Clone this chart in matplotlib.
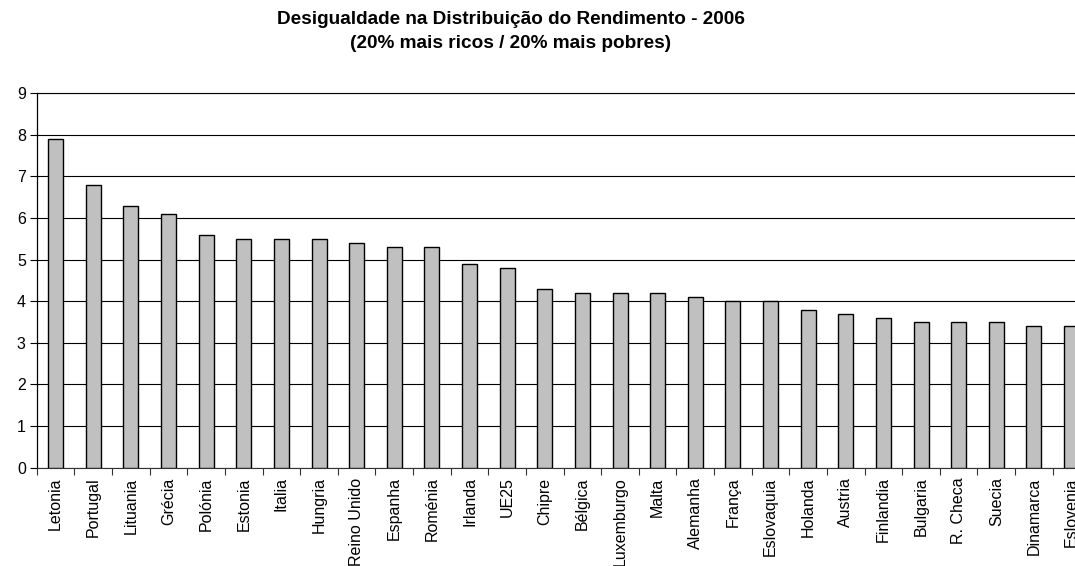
import numpy as np
import matplotlib
matplotlib.use("Agg")
from matplotlib import pyplot as plt

paises = ['Letonia', 'Portugal', 'Lituania', 'Grécia', 'Polónia', 'Estonia', 'Italia',
          'Hungria', 'Reino Unido', 'Espanha', 'Roménia', 'Irlanda', 'UE25', 'Chipre',
          'Bélgica', 'Luxemburgo', 'Malta', 'Alemanha', 'França', 'Eslovaquia', 'Holanda',
          'Austria', 'Finlandia', 'Bulgaria', 'R. Checa', 'Suecia', 'Dinamarca', 'Eslovenia']
razao = [7.9, 6.8, 6.3, 6.1, 5.6, 5.5, 5.5,
         5.5, 5.4, 5.3, 5.3, 4.9, 4.8, 4.3,
         4.2, 4.2, 4.2, 4.1, 4.0, 4.0, 3.8,
         3.7, 3.6, 3.5, 3.5, 3.5, 3.4, 3.4]
yticks = list(range(0, 10))

plt.rcParams['font.family'] = ['Liberation Sans', 'DejaVu Sans']

fig = plt.figure(figsize=(10.75, 5.66), dpi=100)
ax = fig.add_axes([0.0343, 0.1737, 0.98, 0.6615])

x = np.arange(len(paises))
ax.bar(x, razao, width=0.4, color='#C0C0C0', edgecolor='black', linewidth=1.0, zorder=3)

ax.set_xlim(-0.5, len(paises) - 0.5)
ax.set_ylim(0, 9)
ax.set_yticks(yticks)
ax.yaxis.grid(True, color='black', linewidth=0.8, zorder=0)

# ticks between categories, labels at centre
ax.set_xticks(np.arange(len(paises) + 1) - 0.5)
ax.set_xticklabels([])
ax.set_xticks(x, minor=True)
ax.set_xticklabels(paises, minor=True, rotation=90, fontsize=11.5, va='top')
ax.tick_params(axis='x', which='minor', length=0, pad=7)
ax.tick_params(axis='x', which='major', length=5, direction='out', color='#333333')
ax.tick_params(axis='y', length=5, direction='out', labelsize=11.5, pad=3)

ax.spines['right'].set_visible(False)
ax.spines['top'].set_linewidth(0.8)
ax.spines['left'].set_linewidth(0.9)
ax.spines['bottom'].set_color('#333333')

fig.text(511 / 1075, 1 - 20 / 566, 'Desigualdade na Distribuição do Rendimento - 2006',
         ha='center', va='center', fontsize=13.7, fontweight='bold')
fig.text(511 / 1075, 1 - 44 / 566, '(20% mais ricos / 20% mais pobres)',
         ha='center', va='center', fontsize=13.7, fontweight='bold')

fig.savefig('out.png', dpi=100)
